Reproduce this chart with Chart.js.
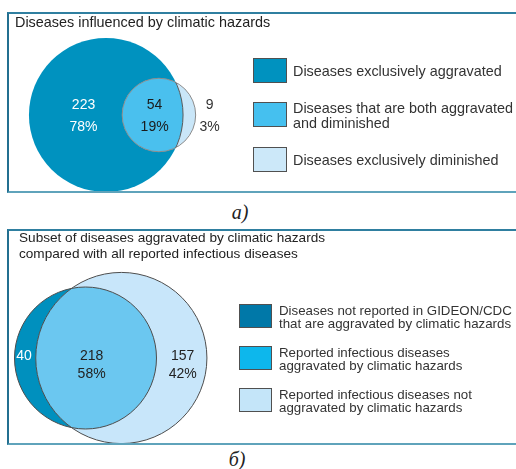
<!DOCTYPE html>
<html><head><meta charset="utf-8">
<script src="https://cdn.jsdelivr.net/npm/chart.js@4.4.1/dist/chart.umd.min.js"></script>
<style>
html,body{margin:0;padding:0;background:#fff;width:516px;height:469px;overflow:hidden;font-family:"Liberation Sans",Arial,Helvetica,sans-serif;}
.abs{position:absolute;}
.frame{position:absolute;box-sizing:border-box;border-left:2px solid #236f90;border-top:2px solid #2f7fa0;border-bottom:2px solid #5fa3bb;pointer-events:none;}
.title{position:absolute;color:#222;white-space:nowrap;}
.box{box-sizing:border-box;border:1px solid #505050;flex:none;}
.txt{position:absolute;white-space:nowrap;color:#333;}
.cap{position:absolute;font-family:"Liberation Serif","DejaVu Serif",serif;font-style:italic;font-size:20px;color:#222;transform:translate(-50%,-50%);}
canvas{position:absolute;}
</style>
</head><body>
<canvas id="vennA" width="240" height="180" style="left:9px;top:14px;width:240px;height:180px"></canvas>
<canvas id="vennB" width="230" height="213" style="left:9px;top:231px;width:230px;height:213px"></canvas>
<div class="frame" style="left:7px;top:12px;width:520px;height:181px"></div>
<div class="frame" style="left:7px;top:229px;width:520px;height:216px"></div>
<div id="overlay"></div>
<script>
// ---------- data ----------
const titleA = ['Diseases influenced by climatic hazards'];
const legendA = [
  ['Diseases exclusively aggravated'],
  ['Diseases that are both aggravated', 'and diminished'],
  ['Diseases exclusively diminished']
];
const countsA = [223, 54, 9];        // only aggravated, both, only diminished
const percentsA = ['78%', '19%', '3%'];

const titleB = ['Subset of diseases aggravated by climatic hazards', 'compared with all reported infectious diseases'];
const legendB = [
  ['Diseases not reported in GIDEON/CDC', 'that are aggravated by climatic hazards'],
  ['Reported infectious diseases', 'aggravated by climatic hazards'],
  ['Reported infectious diseases not', 'aggravated by climatic hazards']
];
const countsB = [40, 218, 157];      // only aggravated (not reported), both, reported not aggravated
const percentsB = ['', '58%', '42%'];

const captions = ['а)', 'б)'];

// ---------- styles ----------
const styleA = {
  w: 240, h: 180, k: 4.63, ox: 97, oy: 101,
  colA: '#0092bf', colLens: '#4ac0ee', colB: '#c9e6f8',
  legendCols: ['#0092bf', '#45c0ef', '#cce8f9'],
  strokeB: '#8c8c8c', strokeAinB: '#5a5a5a', strokeAll: null,
  labelDx: [8, 2, 14], bOutside: true, numDy: -10, pctDy: 12,
  textCols: ['#ffffff', '#1b1b1b', '#333333'], font: '14px "Liberation Sans", Arial, sans-serif'
};
const styleB = {
  w: 230, h: 213, k: 4.42, ox: 76.5, oy: 127,
  colA: '#0090be', colLens: '#6bc7f0', colB: '#c8e6fa',
  legendCols: ['#0078a8', '#0db7ec', '#c4e5f9'],
  strokeB: null, strokeAinB: null, strokeAll: '#4d4d4d',
  labelDx: [-1, -4.5, 1], bOutside: false, numDy: -2, pctDy: 16,
  textCols: ['#ffffff', '#222222', '#222222'], font: '14px "Liberation Sans", Arial, sans-serif'
};

// ---------- Venn geometry (area proportional) ----------
function lensArea(r1, r2, d) {
  if (d >= r1 + r2) return 0;
  if (d <= Math.abs(r1 - r2)) return Math.PI * Math.min(r1, r2) ** 2;
  const a1 = Math.acos((d * d + r1 * r1 - r2 * r2) / (2 * d * r1));
  const a2 = Math.acos((d * d + r2 * r2 - r1 * r1) / (2 * d * r2));
  return r1 * r1 * a1 + r2 * r2 * a2 - 0.5 * Math.sqrt((-d + r1 + r2) * (d + r1 - r2) * (d - r1 + r2) * (d + r1 + r2));
}
function solveVenn(c) {
  const r1 = Math.sqrt(c[0] + c[1]), r2 = Math.sqrt(c[1] + c[2]);
  const target = Math.PI * c[1];
  let lo = Math.abs(r1 - r2), hi = r1 + r2;
  for (let i = 0; i < 80; i++) {
    const m = (lo + hi) / 2;
    if (lensArea(r1, r2, m) > target) lo = m; else hi = m;
  }
  return { r1, r2, d: (lo + hi) / 2 };
}
function pxLen(chart, v) {
  const s = chart.scales.x;
  return Math.abs(s.getPixelForValue(v) - s.getPixelForValue(0));
}

const vennPlugin = {
  id: 'vennLens',
  afterDatasetsDraw(chart) {
    const st = chart.options.plugins.vennLens;
    const ctx = chart.ctx;
    const ea = chart.getDatasetMeta(0).data[0], eb = chart.getDatasetMeta(1).data[0];
    const ax = ea.x, ay = ea.y, ra = ea.options.radius;
    const bx = eb.x, by = eb.y, rb = eb.options.radius;
    ctx.save();
    ctx.beginPath(); ctx.arc(ax, ay, ra, 0, Math.PI * 2); ctx.clip();
    ctx.beginPath(); ctx.arc(bx, by, rb, 0, Math.PI * 2);
    ctx.fillStyle = st.colLens; ctx.fill();
    ctx.restore();
    ctx.save();
    ctx.lineWidth = 1;
    if (st.strokeAll) {
      ctx.strokeStyle = st.strokeAll;
      ctx.beginPath(); ctx.arc(ax, ay, ra, 0, Math.PI * 2); ctx.stroke();
      ctx.beginPath(); ctx.arc(bx, by, rb, 0, Math.PI * 2); ctx.stroke();
    } else {
      ctx.strokeStyle = st.strokeB;
      ctx.beginPath(); ctx.arc(bx, by, rb, 0, Math.PI * 2); ctx.stroke();
      ctx.save();
      ctx.beginPath(); ctx.arc(bx, by, rb, 0, Math.PI * 2); ctx.clip();
      ctx.strokeStyle = st.strokeAinB;
      ctx.beginPath(); ctx.arc(ax, ay, ra, 0, Math.PI * 2); ctx.stroke();
      ctx.restore();
    }
    ctx.restore();
    // labels
    const aL = ax - ra, aR = ax + ra, bL = bx - rb, bR = bx + rb;
    const xs = [
      (aL + bL) / 2 + st.labelDx[0],
      (bL + aR) / 2 + st.labelDx[1],
      st.bOutside ? bR + st.labelDx[2] : (aR + bR) / 2 + st.labelDx[2]
    ];
    ctx.save();
    ctx.font = st.font; ctx.textAlign = 'center'; ctx.textBaseline = 'middle';
    st.counts.forEach((c, i) => {
      ctx.fillStyle = st.textCols[i];
      ctx.fillText(String(c), xs[i], ay + st.numDy);
      if (st.percents[i]) ctx.fillText(st.percents[i], xs[i], ay + st.pctDy);
    });
    ctx.restore();
  }
};

function makeVenn(id, counts, percents, st) {
  const v = solveVenn(counts);
  const k = st.k;
  return new Chart(document.getElementById(id), {
    type: 'scatter',
    data: {
      datasets: [
        { label: 'A', data: [{ x: 0, y: 0 }], rr: v.r1, backgroundColor: st.colA, borderWidth: 0, order: 2, clip: false },
        { label: 'B', data: [{ x: v.d, y: 0 }], rr: v.r2, backgroundColor: st.colB, borderWidth: 0, order: 1, clip: false }
      ]
    },
    options: {
      responsive: false, animation: false, devicePixelRatio: 1, events: [],
      layout: { padding: 0 },
      elements: { point: { radius: (c) => pxLen(c.chart, c.dataset.rr), hoverRadius: 0, hitRadius: 0, borderWidth: 0 } },
      scales: {
        x: { type: 'linear', display: false, min: -st.ox / k, max: (st.w - st.ox) / k },
        y: { type: 'linear', display: false, min: -(st.h - st.oy) / k, max: st.oy / k }
      },
      plugins: {
        legend: { display: false }, tooltip: { enabled: false },
        vennLens: Object.assign({ counts, percents }, st)
      }
    },
    plugins: [vennPlugin]
  });
}

makeVenn('vennA', countsA, percentsA, styleA);
makeVenn('vennB', countsB, percentsB, styleB);

// ---------- titles, legends, captions ----------
const ov = document.getElementById('overlay');
function addTitle(lines, left, top, size, lh) {
  const d = document.createElement('div');
  d.className = 'title';
  d.style.cssText = `left:${left}px;top:${top}px;font-size:${size}px;line-height:${lh}px;`;
  d.innerHTML = lines.join('<br>');
  ov.appendChild(d);
}
function addLegend(items, cols, boxLeft, tops, bw, bh, textLeft, size, lh) {
  items.forEach((lines, i) => {
    const b = document.createElement('div');
    b.className = 'box abs';
    b.style.cssText = `left:${boxLeft}px;top:${tops[i]}px;width:${bw}px;height:${bh}px;background:${cols[i]};`;
    ov.appendChild(b);
    const t = document.createElement('div');
    t.className = 'txt';
    const blockH = lines.length * lh;
    t.style.cssText = `left:${textLeft}px;top:${tops[i] + bh / 2 - blockH / 2 + 1}px;font-size:${size}px;line-height:${lh}px;`;
    t.innerHTML = lines.join('<br>');
    ov.appendChild(t);
  });
}
addTitle(titleA, 15, 14, 14.4, 16);
addTitle(titleB, 19, 230, 13.6, 16);
addLegend(legendA, styleA.legendCols, 253, [58, 102, 147], 34, 25, 293, 14.4, 15);
addLegend(legendB, styleB.legendCols, 239, [304, 346, 388], 33, 24, 279, 13.3, 13);
[[captions[0], 240, 212], [captions[1], 237, 459]].forEach(([txt, x, y]) => {
  const d = document.createElement('div');
  d.className = 'cap';
  d.style.left = x + 'px'; d.style.top = y + 'px';
  d.textContent = txt;
  ov.appendChild(d);
});
</script>
</body></html>
